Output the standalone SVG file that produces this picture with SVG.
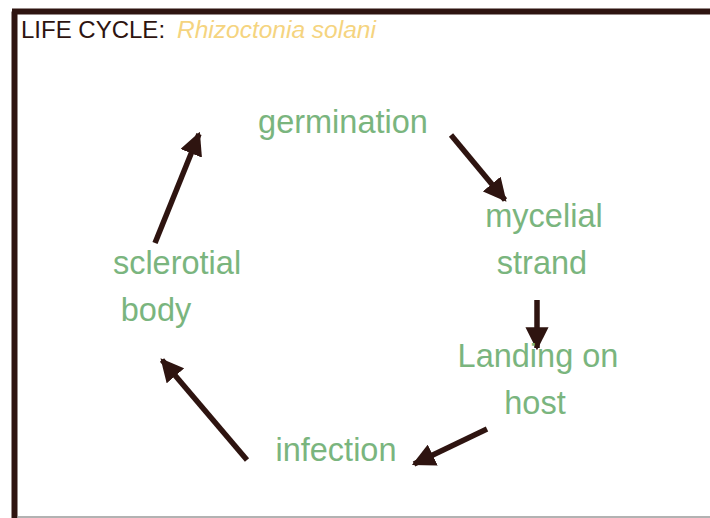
<svg xmlns="http://www.w3.org/2000/svg" width="710" height="518" viewBox="0 0 710 518">
<defs>
<style>
.lbl{font-family:"Liberation Sans",Arial,sans-serif;font-size:32.5px;fill:#7ab57e}
.ttl{font-family:"Liberation Sans",Arial,sans-serif;font-size:24px;fill:#2e1410}
.sp{fill:#f5d47f;font-style:italic;font-size:24.5px}
.arr{stroke:#2e1410;stroke-width:5.5;fill:none;marker-end:url(#ah)}
</style>
<marker id="ah" viewBox="0 0 10 10" refX="9" refY="5" markerWidth="4.2" markerHeight="4.2" markerUnits="strokeWidth" orient="auto">
<path d="M0,0 L10,5 L0,10 z" fill="#2e1410"/>
</marker>
</defs>
<rect x="0" y="0" width="710" height="518" fill="#ffffff"/>
<g id="frame">
<line x1="14.5" y1="11.5" x2="14.5" y2="518" stroke="#2e1410" stroke-width="6"/>
<line x1="12" y1="11.5" x2="710" y2="11.5" stroke="#2e1410" stroke-width="6"/>
<line x1="17" y1="517" x2="710" y2="517" stroke="#999999" stroke-width="1.5"/>
</g>
<g id="title"><text class="ttl" x="21" y="38">LIFE CYCLE: <tspan class="sp" x="177">Rhizoctonia solani</tspan></text></g>
<g id="connectors">
<line class="arr" x1="451" y1="135" x2="505" y2="200"/>
<line class="arr" x1="537" y1="300" x2="537" y2="348"/>
<line class="arr" x1="487" y1="429" x2="414" y2="464"/>
<line class="arr" x1="247" y1="460" x2="162" y2="360"/>
<line class="arr" x1="155" y1="243" x2="199" y2="134"/>
</g>
<g id="germination"><text class="lbl" x="343" y="133" text-anchor="middle">germination</text></g>
<g id="mycelial"><text class="lbl" x="544" y="227" text-anchor="middle">mycelial</text><text class="lbl" x="542" y="274" text-anchor="middle">strand</text></g>
<g id="landing"><text class="lbl" x="538" y="367" text-anchor="middle">Landing on</text><text class="lbl" x="535" y="414" text-anchor="middle">host</text></g>
<g id="infection"><text class="lbl" x="336" y="461" text-anchor="middle">infection</text></g>
<g id="sclerotial"><text class="lbl" x="177" y="274" text-anchor="middle">sclerotial</text><text class="lbl" x="156" y="321" text-anchor="middle">body</text></g>
</svg>
